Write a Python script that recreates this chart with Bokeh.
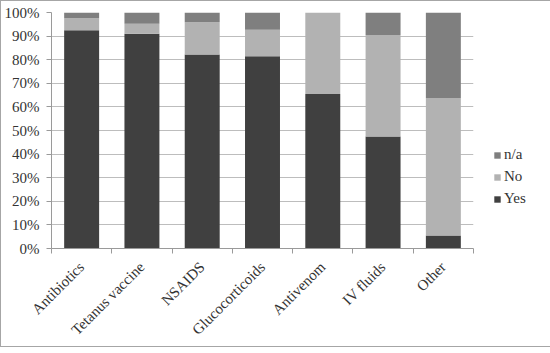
from bokeh.plotting import figure
from bokeh.models import FixedTicker, NumeralTickFormatter, Legend, LegendItem, ColumnDataSource
from bokeh.embed import file_html
from bokeh.resources import INLINE
import math

categories = ["Antibiotics", "Tetanus vaccine", "NSAIDS", "Glucocorticoids", "Antivenom", "IV fluids", "Other"]
yes_pct = [92.5, 91.0, 82.2, 81.5, 65.5, 47.5, 5.5]
no_pct = [5.1, 4.2, 13.7, 11.2, 34.5, 43.0, 58.3]
na_pct = [2.4, 4.8, 4.1, 7.3, 0.0, 9.5, 36.2]
y_ticks = [0, 10, 20, 30, 40, 50, 60, 70, 80, 90, 100]

FONT = "Liberation Serif"
TXT = "#333333"

xs = [i + 0.5 for i in range(len(categories))]
src = ColumnDataSource(dict(
    x=xs,
    Yes=[v / 100 for v in yes_pct],
    No=[v / 100 for v in no_pct],
    na=[v / 100 for v in na_pct],
))

p = figure(width=534, height=337, output_backend="svg", toolbar_location=None,
           x_range=(0, len(categories)), y_range=(0, 1),
           frame_width=422, frame_height=236,
           min_border_left=50, min_border_top=11, min_border_right=0, min_border_bottom=90)
p.outline_line_color = None
p.background_fill_color = "white"
p.border_fill_color = "white"
p.styles = {"border": "1px solid #a6a6a6", "box-sizing": "border-box"}

rs = p.vbar_stack(["Yes", "No", "na"], x="x", width=0.58, source=src,
                  color=["#404040", "#b2b2b2", "#7f7f7f"], line_color=None)

# y axis
p.yaxis.ticker = FixedTicker(ticks=[t / 100 for t in y_ticks])
p.yaxis.formatter = NumeralTickFormatter(format="0%")
p.yaxis.axis_line_color = "#9a9a9a"
p.yaxis.major_tick_line_color = "#9a9a9a"
p.yaxis.major_tick_out = 5
p.yaxis.major_tick_in = 0
p.yaxis.minor_tick_line_color = None
p.yaxis.major_label_standoff = 7
p.yaxis.major_label_text_font = FONT
p.yaxis.major_label_text_font_size = "15px"
p.yaxis.major_label_text_color = TXT

# x axis
p.xaxis.ticker = FixedTicker(ticks=xs, minor_ticks=list(range(len(categories) + 1)))
p.xaxis.major_label_overrides = {x: c for x, c in zip(xs, categories)}
p.xaxis.major_label_orientation = math.pi / 4
p.xaxis.axis_line_color = "#9a9a9a"
p.xaxis.major_tick_line_color = None
p.xaxis.minor_tick_line_color = "#9a9a9a"
p.xaxis.minor_tick_out = 5
p.xaxis.minor_tick_in = 0
p.xaxis.major_label_standoff = 10
p.xaxis.major_label_text_font = FONT
p.xaxis.major_label_text_font_size = "15px"
p.xaxis.major_label_text_color = TXT

p.xgrid.grid_line_color = None
p.ygrid.grid_line_color = "#bdbdbd"
p.ygrid.ticker = FixedTicker(ticks=[t / 100 for t in y_ticks])

legend = Legend(items=[
    LegendItem(label="n/a", renderers=[rs[2]]),
    LegendItem(label="No", renderers=[rs[1]]),
    LegendItem(label="Yes", renderers=[rs[0]]),
], location=(20, 41))
legend.border_line_color = None
legend.background_fill_alpha = 0
legend.label_text_font = FONT
legend.label_text_font_size = "15px"
legend.label_text_color = TXT
legend.glyph_width = 8
legend.glyph_height = 8
legend.label_standoff = 3
legend.spacing = 5
legend.padding = 2
legend.margin = 0
p.add_layout(legend, "right")

open("out.html", "w").write(file_html(p, INLINE))
